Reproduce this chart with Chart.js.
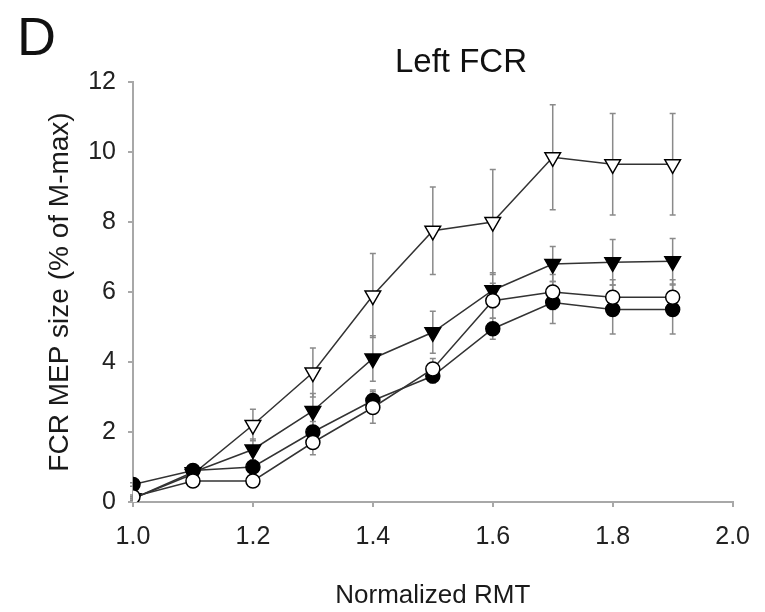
<!DOCTYPE html>
<html>
<head>
<meta charset="utf-8">
<script src="https://cdn.jsdelivr.net/npm/chart.js@4.4.1/dist/chart.umd.min.js"></script>
<style>
  html, body { margin: 0; padding: 0; background: #ffffff; }
  #c { display: block; }
</style>
</head>
<body>
<canvas id="c" width="765" height="612"></canvas>
<script>
// ---- data ----
const rmt = [1.0, 1.1, 1.2, 1.3, 1.4, 1.5, 1.6, 1.7, 1.8, 1.9];

const openTriMean   = [0.1, 0.8, 2.2, 3.7, 5.9, 7.75, 8.0, 9.85, 9.65, 9.65];
const openTriErr    = [0.05, 0.1, 0.45, 0.7, 1.2, 1.25, 1.5, 1.5, 1.45, 1.45];

const fillTriMean   = [0.1, 0.85, 1.5, 2.6, 4.1, 4.85, 6.05, 6.8, 6.85, 6.88];
const fillTriErr    = [0.05, 0.1, 0.3, 0.5, 0.65, 0.6, 0.5, 0.5, 0.65, 0.65];

const openCircMean  = [0.15, 0.6, 0.6, 1.7, 2.7, 3.8, 5.75, 6.0, 5.85, 5.85];
const openCircErr   = [0.05, 0.1, 0.1, 0.35, 0.45, 0.3, 0.5, 0.5, 0.5, 0.5];

const fillCircMean  = [0.5, 0.9, 1.0, 2.0, 2.9, 3.6, 4.95, 5.7, 5.5, 5.5];
const fillCircErr   = [0.05, 0.1, 0.15, 0.3, 0.3, 0.2, 0.3, 0.6, 0.7, 0.7];

const yTicks = [0, 2, 4, 6, 8, 10, 12];
const xTicks = [1.0, 1.2, 1.4, 1.6, 1.8, 2.0];

const panelLabel = 'D';
const chartTitle = 'Left FCR';
const xTitle = 'Normalized RMT';
const yTitle = 'FCR MEP size (% of M-max)';

// ---- helpers ----
const FONT = '"Liberation Sans", Arial, Helvetica, sans-serif';
function pts(means) { return rmt.map((x, i) => ({ x: x, y: means[i] })); }

function makeSet(label, means, errs, style, filled, rot) {
  return {
    label: label,
    data: pts(means),
    errors: errs,
    borderColor: '#333333',
    borderWidth: 1.5,
    pointStyle: style,
    pointRotation: rot,
    pointRadius: style === 'triangle' ? 9 : 7,
    pointBackgroundColor: filled ? '#000000' : '#ffffff',
    pointBorderColor: '#000000',
    pointBorderWidth: 1.5,
    fill: false,
    tension: 0
  };
}

const errorBars = {
  id: 'errorBars',
  beforeDatasetsDraw(chart) {
    const ctx = chart.ctx;
    const xs = chart.scales.x, ys = chart.scales.y;
    ctx.save();
    ctx.strokeStyle = '#8a8a8a';
    ctx.lineWidth = 1.5;
    chart.data.datasets.forEach(ds => {
      ds.data.forEach((p, i) => {
        const e = ds.errors[i];
        const px = xs.getPixelForValue(p.x);
        const top = ys.getPixelForValue(p.y + e);
        const bot = ys.getPixelForValue(p.y - e);
        ctx.beginPath();
        ctx.moveTo(px, top); ctx.lineTo(px, bot);
        ctx.moveTo(px - 3, top); ctx.lineTo(px + 3, top);
        ctx.moveTo(px - 3, bot); ctx.lineTo(px + 3, bot);
        ctx.stroke();
      });
    });
    ctx.restore();
  }
};

const headings = {
  id: 'headings',
  afterDraw(chart) {
    const ctx = chart.ctx;
    ctx.save();
    ctx.fillStyle = '#111111';
    ctx.textBaseline = 'alphabetic';
    ctx.textAlign = 'left';
    ctx.font = '54px ' + FONT;
    ctx.fillText(panelLabel, 17, 55);
    ctx.textAlign = 'center';
    ctx.font = '33px ' + FONT;
    ctx.fillText(chartTitle, 461, 72);
    ctx.restore();
  }
};

const bg = {
  id: 'bg',
  beforeDraw(chart) {
    const ctx = chart.ctx;
    ctx.save();
    ctx.fillStyle = '#ffffff';
    ctx.fillRect(0, 0, chart.width, chart.height);
    ctx.restore();
  }
};

new Chart(document.getElementById('c'), {
  type: 'line',
  data: {
    datasets: [
      makeSet('open circle', openCircMean, openCircErr, 'circle', false, 0),
      makeSet('filled circle', fillCircMean, fillCircErr, 'circle', true, 0),
      makeSet('filled triangle', fillTriMean, fillTriErr, 'triangle', true, 180),
      makeSet('open triangle', openTriMean, openTriErr, 'triangle', false, 180)
    ]
  },
  options: {
    responsive: false,
    devicePixelRatio: 1,
    animation: false,
    layout: { padding: { left: 0, top: 82, right: 30, bottom: 0 } },
    plugins: {
      legend: { display: false },
      tooltip: { enabled: false },
      title: { display: false }
    },
    scales: {
      x: {
        type: 'linear',
        min: 1.0, max: 2.0,
        afterBuildTicks(scale) { scale.ticks = xTicks.map(v => ({ value: v })); },
        afterFit(scale) { scale.height = 110; },
        ticks: {
          color: '#222222',
          font: { family: FONT, size: 25 },
          padding: 15,
          maxRotation: 0,
          callback: v => Number(v).toFixed(1)
        },
        grid: { drawOnChartArea: false, drawTicks: true, tickLength: 5, color: '#a8a8a8', lineWidth: 2 },
        border: { display: true, color: '#a8a8a8', width: 2 },
        title: {
          display: true, text: xTitle, color: '#1a1a1a',
          font: { family: FONT, size: 26 },
          padding: { top: 0, bottom: 1 }
        }
      },
      y: {
        type: 'linear',
        min: 0, max: 12,
        afterBuildTicks(scale) { scale.ticks = yTicks.map(v => ({ value: v })); },
        afterFit(scale) { scale.width = 133; },
        ticks: {
          color: '#222222',
          font: { family: FONT, size: 25 },
          padding: 12
        },
        grid: { drawOnChartArea: false, drawTicks: true, tickLength: 5, color: '#a8a8a8', lineWidth: 2 },
        border: { display: true, color: '#a8a8a8', width: 2 },
        title: {
          display: true, text: yTitle, color: '#1a1a1a',
          font: { family: FONT, size: 28 },
          padding: { top: 43, bottom: 0 }
        }
      }
    }
  },
  plugins: [bg, errorBars, headings]
});
</script>
</body>
</html>
